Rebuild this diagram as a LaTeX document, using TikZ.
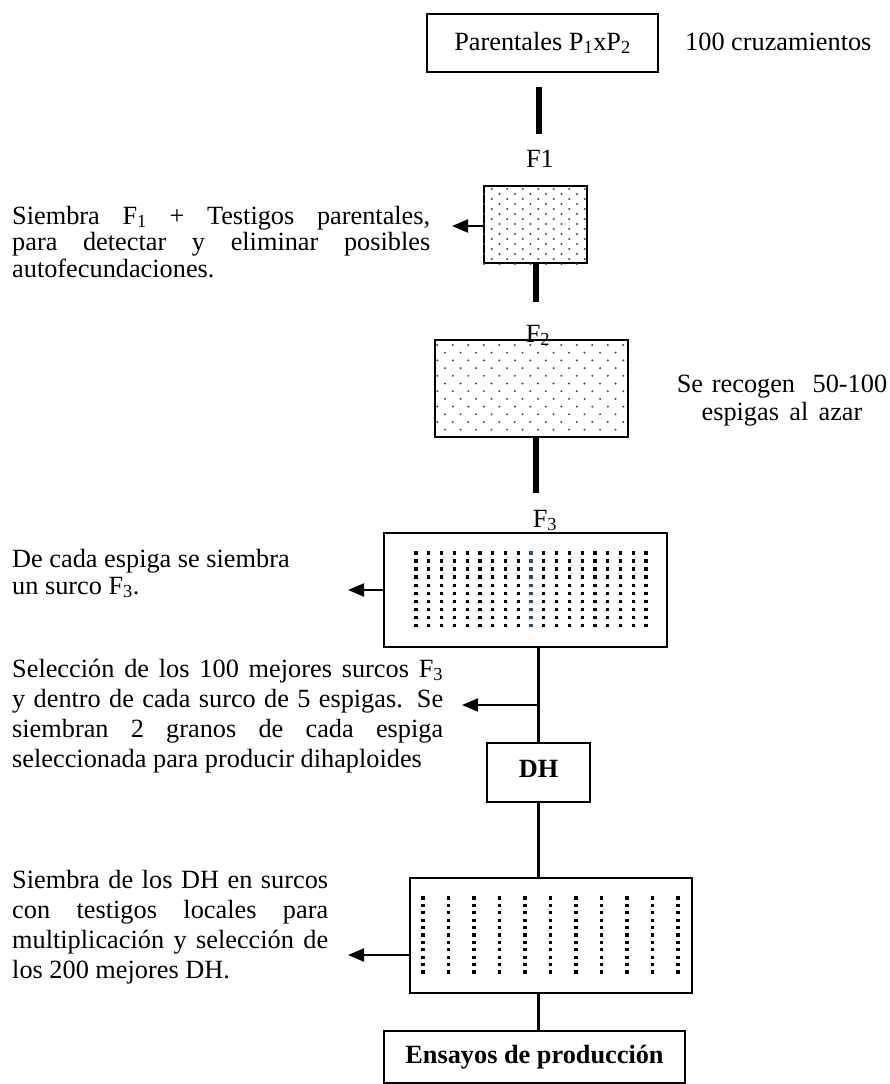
\documentclass[tikz,border=0pt]{standalone}
\usepackage{fontspec}
\setmainfont{Liberation Serif}
\usetikzlibrary{arrows.meta,calc}
\definecolor{dotblue}{HTML}{1F4E79}
\definecolor{dotgray}{HTML}{444444}
\newcommand\jline[2]{\makebox[#1][s]{\spaceskip=0pt\xspaceskip=0pt #2}}
\newcommand\natsp{\spaceskip=0pt\xspaceskip=0pt }
\tikzset{
  txt/.style={inner sep=0pt, font=\fontsize{26.3pt}{30pt}\selectfont},
  box/.style={draw, line width=2pt, inner sep=0pt, font=\fontsize{26.3pt}{30pt}\selectfont},
  thickconn/.style={line width=6pt},
  conn/.style={line width=3.5pt},
  arr/.style={line width=2pt, -{Triangle[length=16pt,width=13pt]}},
  sqdot/.style={fill=black},
}
\begin{document}
\begin{tikzpicture}[x=1pt,y=-1pt]
\useasboundingbox (0,0) rectangle (889,1084);

% boxes
\node[box, minimum width=231pt, minimum height=58pt] (par) at (542.5,43) {Parentales P\textsubscript{1}xP\textsubscript{2}};
\node[txt, anchor=base west] (cruz) at (685,50) {100 cruzamientos};
\node[txt, anchor=base] (f1) at (540,167) {F1};
\node[box, minimum width=103pt, minimum height=77pt] (b1) at (535.5,224.5) {};
\node[box, minimum width=193pt, minimum height=97pt] (b2) at (531.5,388.5) {};
\node[box, minimum width=283pt, minimum height=114pt] (b3) at (525.5,590) {};
\node[box, minimum width=103pt, minimum height=59pt, text height=18pt, text depth=9pt] (dh) at (538.5,772.5) {\textbf{DH}};
\node[box, minimum width=282pt, minimum height=115pt] (b4) at (551,935.5) {};
\node[box, minimum width=301pt, minimum height=52pt] (ens) at (534.5,1057) {\textbf{Ensayos de producción}};

% dot fills
\begin{scope}
\clip (b1.south west) rectangle (b1.north east);
\foreach \r in {0,...,15} {
  \foreach \c in {0,...,7} {
    \fill[dotgray] ({491.7+\c*15.5-mod(\r,2)*7.75},{189+\r*5}) circle (1.05pt);
  }
}
\end{scope}
\begin{scope}
\clip (b2.south west) rectangle (b2.north east);
\foreach \r in {0,...,11} {
  \foreach \c in {0,...,12} {
    \fill[dotgray] ({437.3+\c*15.5+mod(\r,2)*7.75},{345+\r*7.7}) circle (1.1pt);
  }
}
\end{scope}
\foreach \c in {0,...,18} {
  \foreach \r in {0,...,9} {
    \ifnum\c=9
      \fill[dotblue] ({416+\c*12.78-1.6},{553+\r*8.03-1.6}) rectangle ++(3.2,3.2);
    \else
      \fill[sqdot] ({416+\c*12.78-1.6},{553+\r*8.03-1.6}) rectangle ++(3.2,3.2);
    \fi
  }
}
\foreach \c in {0,...,10} {
  \foreach \r in {0,...,10} {
    \fill[sqdot] ({423+\c*25.5-1.6},{898+\r*7.4-1.6}) rectangle ++(3.2,3.2);
  }
}

% labels
\node[txt, anchor=base] (f2) at (538,342) {F\textsubscript{2}};
\node[txt, anchor=base] (f3) at (545,527) {F\textsubscript{3}};

% connectors
\coordinate (l1a) at (539,87);
\coordinate (l1b) at (539,134);
\coordinate (l2b) at (535.5,302);
\coordinate (l3b) at (536,493);
\draw[thickconn] (l1a) -- (l1b);
\draw[thickconn] (b1.south) -- (l2b);
\draw[thickconn] (b2.south -| l3b) -- (l3b);
\draw[conn] (b3.south -| dh.north) -- (dh.north);
\draw[conn] (dh.south) -- (b4.north -| dh.south);
\draw[conn] (b4.south -| dh.south) -- (ens.north -| dh.south);

% arrows
\coordinate (a1) at (452,226);
\coordinate (a3) at (348,590);
\coordinate (br) at (538.5,705);
\coordinate (a5) at (462,705);
\coordinate (a4) at (348,955);
\draw[arr] (b1.west |- a1) -- (a1);
\draw[arr] (b3.west) -- (a3);
\draw[arr] (br) -- (a5);
\draw[arr] (b4.west |- a4) -- (a4);

% texts
\node[txt, font=\fontsize{26.3pt}{26.5pt}\selectfont, anchor=base west, text width=418pt, align=left] (ta) at (12,224)
  {\natsp\jline{418pt}{Siembra F\textsubscript{1} + Testigos parentales,}\\
   \jline{418pt}{para detectar y eliminar posibles}\\
   autofecundaciones.};
\node[txt, font=\fontsize{26.3pt}{28pt}\selectfont, anchor=base, text width=280pt, align=center] (te) at (782,392)
  {\natsp Se recogen~ 50-100\\ espigas al azar};
\node[txt, font=\fontsize{26.3pt}{27pt}\selectfont, anchor=base west, text width=300pt, align=left] (tb) at (12,567)
  {\natsp De cada espiga se siembra\\ un surco F\textsubscript{3}.};
\node[txt, font=\fontsize{26.3pt}{30pt}\selectfont, anchor=base west, text width=431pt, align=left] (tc) at (12,677)
  {\natsp\jline{431pt}{Selección de los 100 mejores surcos F\textsubscript{3}}\\
   \jline{431pt}{y dentro de cada surco de 5 espigas. Se}\\
   \jline{431pt}{siembran 2 granos de cada espiga}\\
   seleccionada para producir dihaploides};
\node[txt, font=\fontsize{26.3pt}{30pt}\selectfont, anchor=base west, text width=316pt, align=left] (td) at (12,888)
  {\natsp\jline{316pt}{Siembra de los DH en surcos}\\
   \jline{316pt}{con testigos locales para}\\
   \jline{316pt}{multiplicación y selección de}\\
   los 200 mejores DH.};
\end{tikzpicture}
\end{document}
